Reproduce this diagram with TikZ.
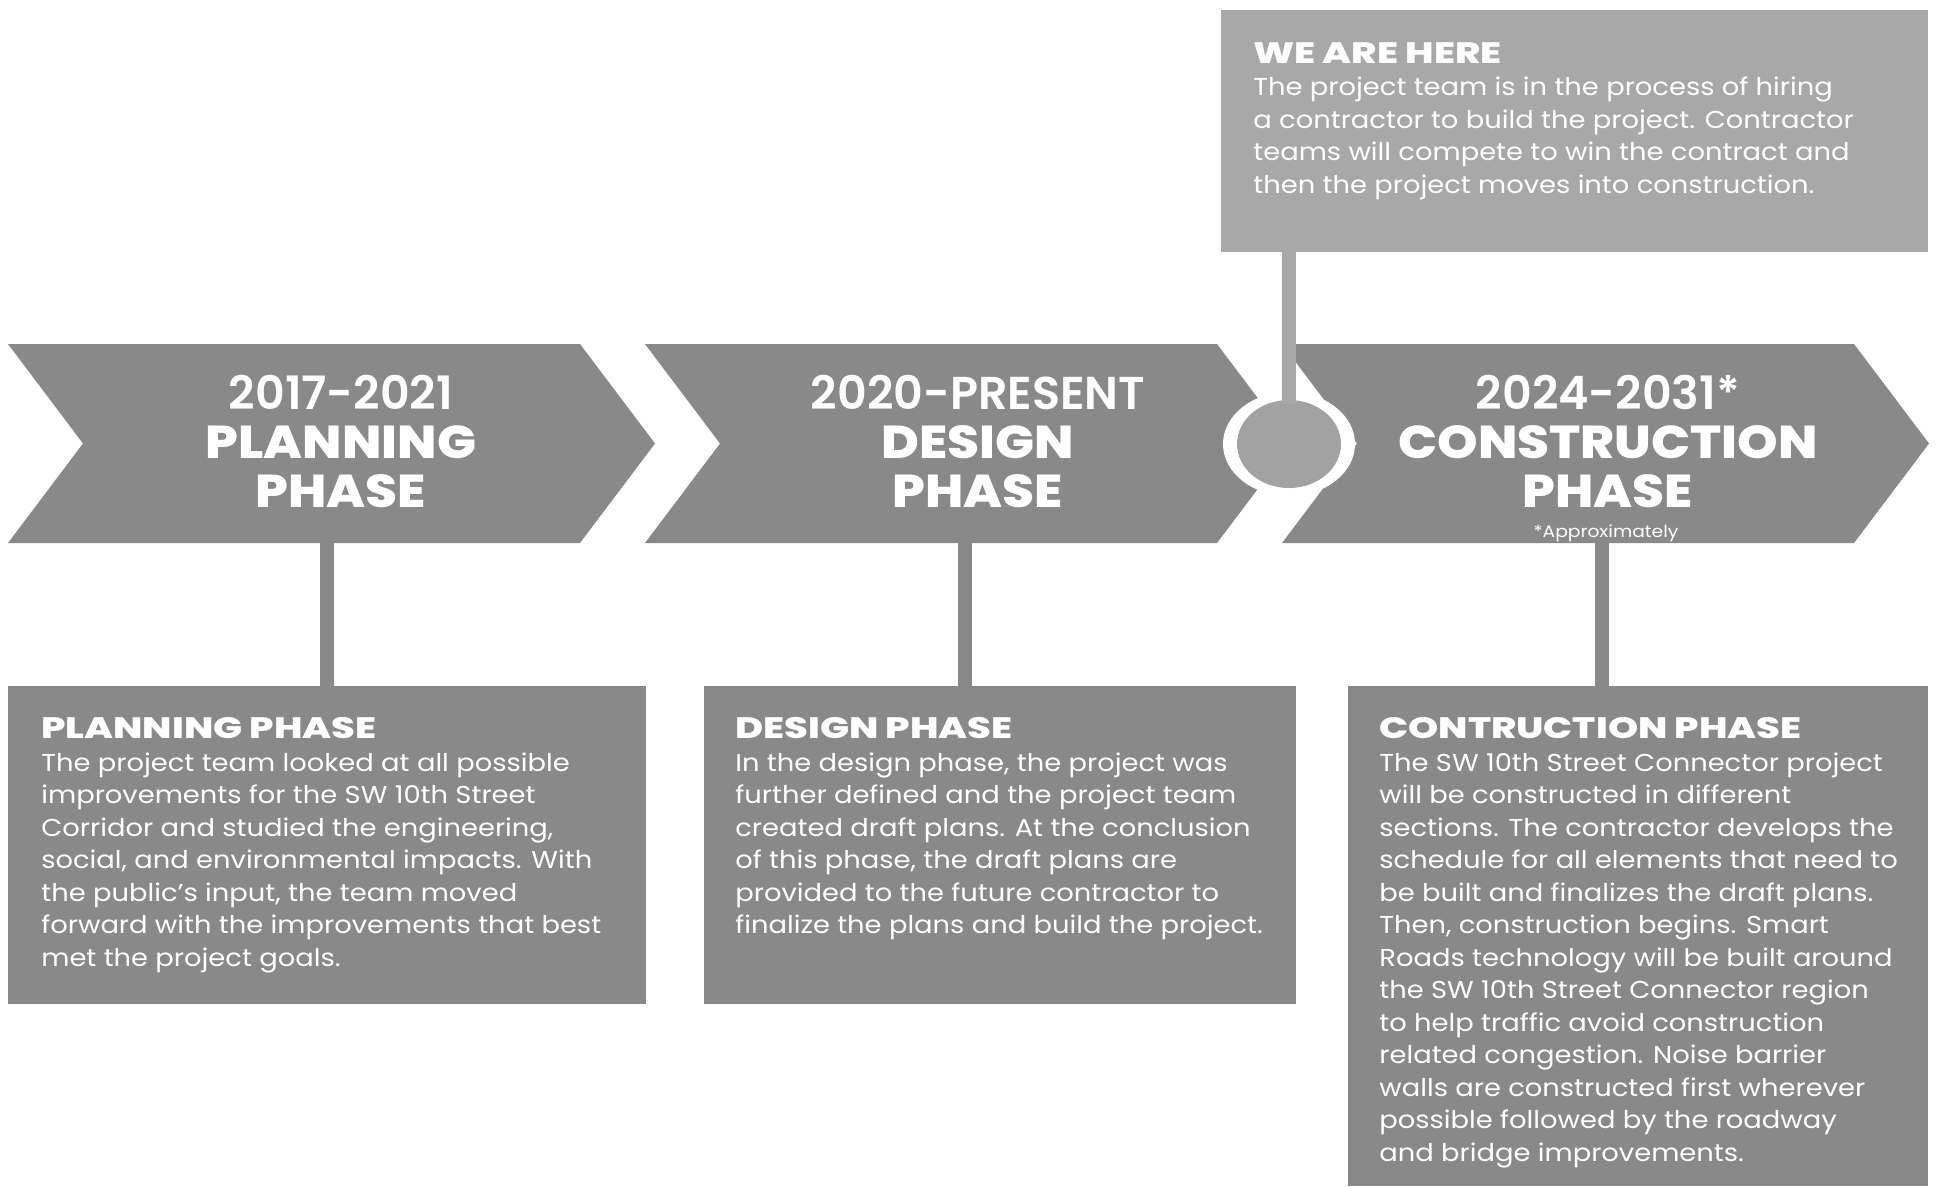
\documentclass[tikz,border=0pt]{standalone}
\usepackage{fontspec}
\setmainfont{Poppins}[FakeStretch=1.12]
\newfontfamily\headfont{Poppins ExtraBold}[FakeStretch=1.12]
\newfontfamily\boxheadfont{Poppins ExtraBold}[FakeStretch=1.3]
\newfontfamily\yearfont{Poppins SemiBold}
\definecolor{phase}{HTML}{898989}
\definecolor{here}{HTML}{A8A8A8}
\definecolor{dot}{HTML}{A2A2A2}
\def\chevron(#1){\fill[phase] (#1,344) -- ++(572,0) -- ++(75,99.5) -- ++(-75,99.5) -- ++(-572,0) -- ++(75,-99.5) -- cycle;}
\tikzset{
  stem/.style={draw=phase, line width=2.8mm},
  herestem/.style={draw=here, line width=2.8mm},
  phasetext/.style={anchor=north, inner sep=0pt, align=center, text=white,
    font=\headfont\fontsize{26.2pt}{27.9pt}\selectfont},
  boxtext/.style={anchor=north west, inner sep=0pt, align=left, text=white,
    font=\fontsize{13.9pt}{18.5pt}\selectfont},
}
\newcommand{\boxhead}[1]{{\boxheadfont\fontsize{16.8pt}{18.5pt}\selectfont #1}}
\newcommand{\yearline}[1]{{\yearfont #1}}

\begin{document}
\begin{tikzpicture}[x=0.2mm,y=-0.2mm]
  %%%%% START %%%%%
  \useasboundingbox (0,0) rectangle (1944,1186);
  \fill[white] (0,0) rectangle (1944,1186);

  \chevron(8)
  \chevron(645)
  \chevron(1282)

  \coordinate (planstem) at (327,543);
  \coordinate (designstem) at (965,543);
  \coordinate (buildstem) at (1602,543);
  \coordinate (here) at (1289,444);

  \coordinate (planNW) at (8,686);
  \coordinate (designNW) at (704,686);
  \coordinate (buildNW) at (1348,686);
  \coordinate (hereNW) at (1221,10);

  \fill[phase] (planNW) rectangle (646,1004);
  \fill[phase] (designNW) rectangle (1296,1004);
  \fill[phase] (buildNW) rectangle (1928,1186);
  \fill[here] (hereNW) rectangle (1928,252);

  \draw[stem] (planstem) -- (planstem |- planNW);
  \draw[stem] (designstem) -- (designstem |- designNW);
  \draw[stem] (buildstem) -- (buildstem |- buildNW);

  \fill[white] (here) ellipse [x radius=66, y radius=52];
  \fill[dot] (here) ellipse [x radius=52, y radius=44];
  \draw[herestem] (here) ++(0,-40) -- (here |- 0,252);

  \node[phasetext] (plan) at (341,375) {\yearline{2017-2021}\\PLANNING\\PHASE};
  \node[phasetext] (design) at (978,375) {\yearline{2020-PRESENT}\\DESIGN\\PHASE};
  \node[phasetext] (build) at (1608,375) {\yearline{2024-2031*}\\CONSTRUCTION\\PHASE};
  \node[anchor=base, inner sep=0pt, text=white, font=\fontsize{9.5pt}{10pt}\selectfont] (approx) at (1606,537) {*Approximately};

  \node[boxtext] (heretext) at (1253,42) {\boxhead{WE ARE HERE}\\
    The project team is in the process of hiring\\
    a contractor to build the project. Contractor\\
    teams will compete to win the contract and\\
    then the project moves into construction.};

  \node[boxtext] (plantext) at (41,717) {\boxhead{PLANNING PHASE}\\
    The project team looked at all possible\\
    improvements for the SW 10th Street\\
    Corridor and studied the engineering,\\
    social, and environmental impacts. With\\
    the public’s input, the team moved\\
    forward with the improvements that best\\
    met the project goals.};

  \node[boxtext] (designtext) at (735,717) {\boxhead{DESIGN PHASE}\\
    In the design phase, the project was\\
    further defined and the project team\\
    created draft plans. At the conclusion\\
    of this phase, the draft plans are\\
    provided to the future contractor to\\
    finalize the plans and build the project.};

  \node[boxtext] (buildtext) at (1379,717) {\boxhead{CONTRUCTION PHASE}\\
    The SW 10th Street Connector project\\
    will be constructed in different\\
    sections. The contractor develops the\\
    schedule for all elements that need to\\
    be built and finalizes the draft plans.\\
    Then, construction begins. Smart\\
    Roads technology will be built around\\
    the SW 10th Street Connector region\\
    to help traffic avoid construction\\
    related congestion. Noise barrier\\
    walls are constructed first wherever\\
    possible followed by the roadway\\
    and bridge improvements.};
  %%%%% END %%%%%
\end{tikzpicture}
\end{document}
